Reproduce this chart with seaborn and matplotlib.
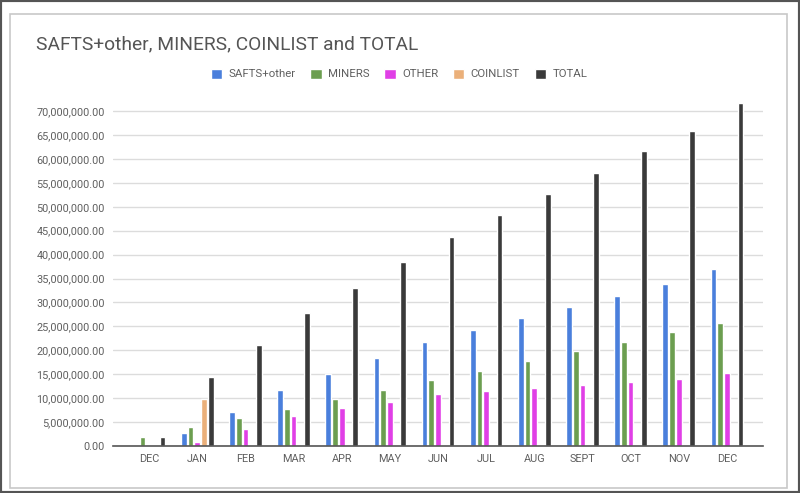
import pandas as pd
import matplotlib
matplotlib.use("Agg")
import matplotlib.pyplot as plt
import seaborn as sns
from matplotlib.ticker import FuncFormatter, MultipleLocator
from matplotlib.patches import Rectangle

# Datos (millones)
meses = ["DEC", "JAN", "FEB", "MAR", "APR", "MAY", "JUN", "JUL", "AUG", "SEPT", "OCT", "NOV", "DEC"]
claves = ["m%02d" % i for i in range(len(meses))]
safts = [0, 2.7, 7.1, 11.7, 15.0, 18.3, 21.8, 24.2, 26.7, 29.0, 31.4, 33.8, 37.0]
miners = [1.8, 3.9, 5.9, 7.7, 9.8, 11.7, 13.7, 15.7, 17.8, 19.8, 21.8, 23.8, 25.8]
other = [0, 0.9, 3.5, 6.3, 7.9, 9.3, 10.9, 11.5, 12.1, 12.7, 13.3, 13.9, 15.3]
coinlist = [0, 9.8, 0, 0, 0, 0, 0, 0, 0, 0, 0, 0, 0.2]
total = [1.8, 14.5, 21.1, 27.8, 33.0, 38.5, 43.7, 48.2, 52.7, 57.1, 61.6, 65.8, 71.6]

series = ["SAFTS+other", "MINERS", "OTHER", "COINLIST", "TOTAL"]
colores = ["#4a7fdc", "#6c9e50", "#e03fe6", "#ebb07a", "#3a3a3a"]

data_df = pd.DataFrame({
    "mes": claves * 5,
    "serie": sum([[s] * len(claves) for s in series], []),
    "valor": [v * 1e6 for v in safts + miners + other + coinlist + total],
})

sns.set_theme(style="white")
plt.rcParams["font.family"] = ["Roboto", "DejaVu Sans"]

fig = plt.figure(figsize=(8, 4.93), dpi=100)
fig.patch.set_facecolor("white")

# Marco de la tarjeta
fig.patches.append(Rectangle((10 / 800, 1 - 488 / 493), 777 / 800, 474 / 493,
                             transform=fig.transFigure, fill=False,
                             edgecolor="#c8c8c8", linewidth=1.2))
fig.patches.append(Rectangle((0, 0), 1, 1, transform=fig.transFigure, fill=False,
                             edgecolor="#555555", linewidth=3))

ax = fig.add_axes([113 / 800, 1 - 446 / 493, 650 / 800, 344.5 / 493])
sns.barplot(data=data_df, x="mes", y="valor", hue="serie", order=claves,
            hue_order=series, palette=colores, width=0.7, gap=0.15,
            saturation=1, ax=ax, legend=True)

ax.set_xlim(-0.75, 12.75)
ax.set_ylim(0, 72e6)
ax.yaxis.set_major_locator(MultipleLocator(5e6))
ax.yaxis.set_major_formatter(FuncFormatter(lambda v, p: f"{v:,.2f}" if v <= 70e6 else ""))
ax.set_xticks(range(len(meses)))
ax.set_xticklabels(meses)
ax.tick_params(axis="both", labelsize=7.8, colors="#5f5f5f", length=0, pad=6)
ax.set_xlabel("")
ax.set_ylabel("")
for lbl in ax.get_xticklabels() + ax.get_yticklabels():
    lbl.set_color("#5f5f5f")

ax.grid(axis="y", color="#dcdcdc", linewidth=1)
ax.set_axisbelow(True)
for lado in ["top", "right", "left"]:
    ax.spines[lado].set_visible(False)
ax.spines["bottom"].set_color("#555555")
ax.spines["bottom"].set_linewidth(1.2)

handles, labels = ax.get_legend_handles_labels()
ax.legend(handles, labels, loc="center", bbox_to_anchor=(399 / 800, 1 - 74 / 493),
          bbox_transform=fig.transFigure, ncol=5, frameon=False, fontsize=8.2,
          handlelength=1.0, handleheight=1.0, handletextpad=0.55, columnspacing=1.3,
          labelcolor="#5f5f5f")

fig.text(36 / 800, 1 - 44 / 493, "SAFTS+other, MINERS, COINLIST and TOTAL",
         fontsize=13.8, color="#555555", va="center", ha="left")

plt.savefig("out.png", dpi=100)
